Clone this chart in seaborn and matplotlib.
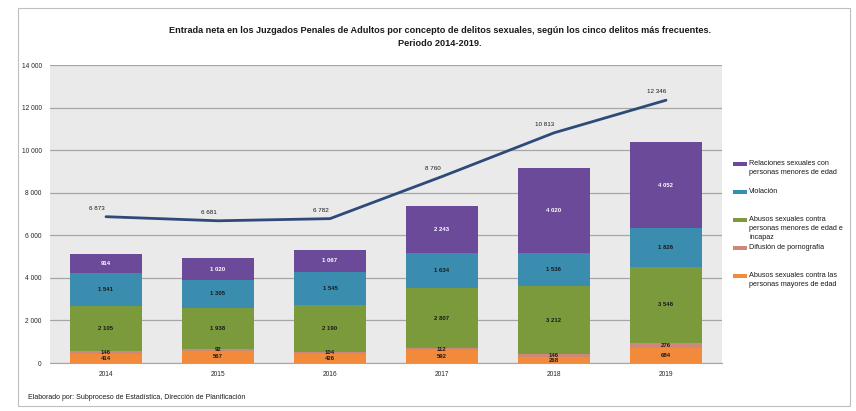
import numpy as np
import pandas as pd
import seaborn as sns
import matplotlib
matplotlib.use("Agg")
import matplotlib.pyplot as plt
from matplotlib.patches import Rectangle

# Years and series (entries per year)
years = ["2014", "2015", "2016", "2017", "2018", "2019"]
abusos_mayores = [414, 567, 426, 592, 268, 684]
difusion_porno = [146, 92, 104, 112, 146, 276]
abusos_menores = [2105, 1938, 2190, 2807, 3212, 3548]
violacion = [1541, 1305, 1545, 1634, 1536, 1826]
relaciones_menores = [914, 1020, 1067, 2243, 4020, 4052]
total_delitos = [6873, 6681, 6782, 8760, 10813, 12346]

series_names = [
    "Abusos sexuales contra las\npersonas mayores de edad",
    "Difusión de pornografía",
    "Abusos sexuales contra\npersonas menores de edad e\nincapaz",
    "Violación",
    "Relaciones sexuales con\npersonas menores de edad",
]
series_values = [abusos_mayores, difusion_porno, abusos_menores, violacion, relaciones_menores]
series_colors = ["#F28A3C", "#CF8878", "#7A9A3C", "#3A8DAE", "#6B4A99"]
label_colors = ["#1a1a1a", "#1a1a1a", "#1a1a1a", "#1a1a1a", "white"]

sns.set_style("white")
plt.rcParams["font.family"] = ["Liberation Sans", "DejaVu Sans"]

W, H = 856, 411
fig = plt.figure(figsize=(W / 100, H / 100), dpi=100)
ax = fig.add_axes([50 / W, 1 - 363 / H, 672 / W, 298 / H])
ax.set_facecolor("#EAEAEA")

def fmt(v):
    return f"{v:,}".replace(",", " ")

df = pd.DataFrame({"anio": years})
bottom = np.zeros(len(years))
for name, vals, col, lcol in zip(series_names, series_values, series_colors, label_colors):
    vals = np.array(vals, dtype=float)
    df["valor"] = vals
    sns.barplot(data=df, x="anio", y="valor", color=col, bottom=bottom,
                width=0.64, ax=ax, saturation=1, zorder=3, linewidth=0)
    for i, v in enumerate(vals):
        ax.text(i, bottom[i] + v / 2, fmt(int(v)), ha="center", va="center",
                fontsize=4.3, color=lcol, fontweight="bold", zorder=5)
    bottom = bottom + vals

# Total line with point labels
line_df = pd.DataFrame({"pos": np.arange(len(years)), "total": total_delitos})
sns.lineplot(data=line_df, x="pos", y="total", color="#2E4A78", linewidth=2,
             ax=ax, zorder=4)
for i, v in enumerate(total_delitos):
    ax.text(i - 0.08, v + 280, fmt(v), ha="center", va="bottom",
            fontsize=4.5, color="#1a1a1a", zorder=5)

ax.set_xlim(-0.5, len(years) - 0.5)
ax.set_ylim(0, 14000)
ax.set_yticks(np.arange(0, 14001, 2000))
ax.set_yticklabels([fmt(t) for t in range(0, 14001, 2000)], fontsize=4.8)
ax.set_xticks(range(len(years)))
ax.set_xticklabels(years, fontsize=4.8)
ax.set_xlabel("")
ax.set_ylabel("")
ax.tick_params(axis="both", length=0, pad=6)
ax.yaxis.grid(True, color="#A6A6A6", linewidth=0.9, zorder=0)
ax.set_axisbelow(True)
for s in ["top", "right", "left"]:
    ax.spines[s].set_visible(False)
ax.spines["bottom"].set_color("#A6A6A6")

# Legend entries, listed from the top of the stack down
for k, (name, col) in enumerate(zip(series_names[::-1], series_colors[::-1])):
    y_px = 164 + 28 * k
    fig.patches.append(Rectangle((733 / W, 1 - (y_px + 2) / H), 14 / W, 4 / H,
                                 transform=fig.transFigure, facecolor=col,
                                 edgecolor="none"))
    fig.text(749 / W, 1 - (y_px - 4) / H, name, ha="left", va="top",
             fontsize=5.2, color="#1a1a1a", linespacing=1.35)

fig.text(440 / W, 1 - 37 / H,
         "Entrada neta en los Juzgados Penales de Adultos por concepto de delitos sexuales, "
         "según los cinco delitos más frecuentes.\nPeriodo 2014-2019.",
         ha="center", va="center", fontsize=6.6, fontweight="bold",
         color="#1a1a1a", linespacing=1.55)
fig.text(28 / W, 1 - 397 / H,
         "Elaborado por: Subproceso de Estadística, Dirección de Planificación",
         ha="left", va="center", fontsize=5, color="#1a1a1a")

# Chart frame
fig.patches.append(Rectangle((18 / W, 1 - 406 / H), 832 / W, 398 / H,
                             transform=fig.transFigure, fill=False,
                             edgecolor="#BFBFBF", linewidth=0.8))

fig.savefig("out.png", dpi=100, facecolor="white")
